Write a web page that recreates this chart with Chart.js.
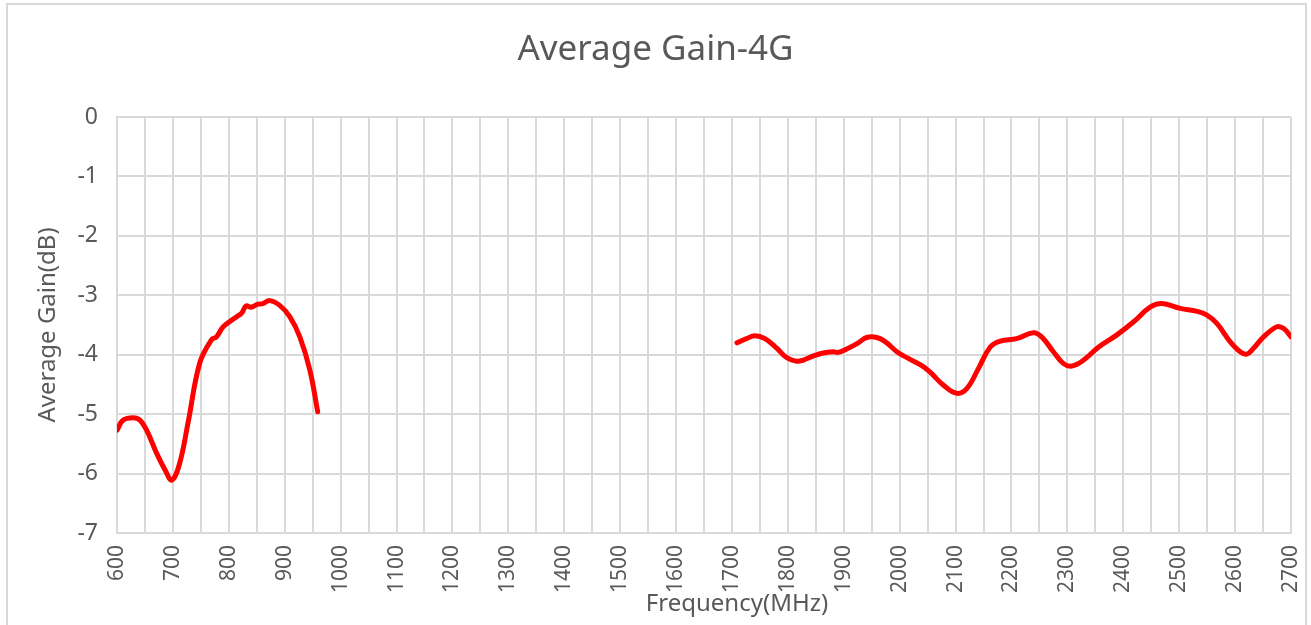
<!DOCTYPE html>
<html>
<head>
<meta charset="utf-8">
<title>Average Gain-4G</title>
<script src="https://cdn.jsdelivr.net/npm/chart.js@4.4.1/dist/chart.umd.min.js"></script>
<style>
    html, body { margin: 0; padding: 0; background: #fff; }
    #wrap { position: relative; width: 1311px; height: 625px; }
</style>
</head>
<body>
<div id="wrap"><canvas id="gainChart" width="1311" height="625"></canvas></div>
<script>
// Low band (MHz / dB)
const lowFreq = [600, 611, 629, 641, 653, 671, 686, 698, 712, 727, 748, 769, 778, 790, 814, 823, 831, 840, 852, 861, 873, 891, 909, 927, 945, 959];
const lowGain = [-5.27, -5.10, -5.06, -5.10, -5.27, -5.66, -5.94, -6.11, -5.83, -5.15, -4.14, -3.75, -3.70, -3.53, -3.36, -3.30, -3.18, -3.20, -3.15, -3.14, -3.09, -3.17, -3.36, -3.70, -4.26, -4.96];

// High band (MHz / dB)
const highFreq = [1709, 1726, 1741, 1759, 1780, 1798, 1816, 1828, 1846, 1863, 1881, 1890, 1908, 1926, 1941, 1959, 1974, 1995, 2013, 2039, 2054, 2078, 2102, 2120, 2141, 2162, 2180, 2209, 2239, 2254, 2275, 2293, 2308, 2329, 2356, 2388, 2418, 2448, 2469, 2502, 2532, 2549, 2567, 2591, 2609, 2621, 2633, 2651, 2675, 2687, 2700];
const highGain = [-3.80, -3.73, -3.68, -3.73, -3.89, -4.05, -4.11, -4.09, -4.02, -3.97, -3.95, -3.96, -3.89, -3.80, -3.71, -3.71, -3.78, -3.95, -4.05, -4.18, -4.29, -4.51, -4.65, -4.57, -4.23, -3.87, -3.77, -3.73, -3.63, -3.70, -3.95, -4.15, -4.19, -4.09, -3.87, -3.67, -3.45, -3.20, -3.14, -3.22, -3.27, -3.33, -3.47, -3.78, -3.95, -3.99, -3.89, -3.70, -3.53, -3.56, -3.70];

const xMin = 600, xMax = 2700, xStep = 50, xLabelStep = 100;
const yMin = -7, yMax = 0, yStep = 1;

const FONT = '"Noto Sans", "Open Sans", sans-serif';
const GREY = '#595959';
const GRID = '#d9d9d9';

const toPoints = (xs, ys) => xs.map((x, i) => ({ x: x, y: ys[i] }));

// outer frame like the spreadsheet chart area
const framePlugin = {
    id: 'frame',
    beforeDraw(chart) {
        const c = chart.ctx;
        c.save();
        c.fillStyle = '#fff';
        c.fillRect(0, 0, chart.width, chart.height);
        c.strokeStyle = GRID;
        c.lineWidth = 2;
        c.strokeRect(7, 4, 1299, 700);
        c.restore();
    }
};

// x axis title sits a bit right of the plot centre in the original
const xTitlePlugin = {
    id: 'xTitle',
    afterDraw(chart) {
        const c = chart.ctx;
        const area = chart.chartArea;
        c.save();
        c.fillStyle = GREY;
        c.font = '24px ' + FONT;
        c.textAlign = 'center';
        c.textBaseline = 'middle';
        c.fillText('Frequency(MHz)', (area.left + area.right) / 2 + 33, 604);
        c.restore();
    }
};

const ctx = document.getElementById('gainChart').getContext('2d');
new Chart(ctx, {
    type: 'line',
    data: {
        datasets: [
            {
                label: 'Low band',
                data: toPoints(lowFreq, lowGain),
                borderColor: '#ff0000',
                borderWidth: 5,
                pointRadius: 0,
                tension: 0.4,
                borderCapStyle: 'round',
                fill: false
            },
            {
                label: 'High band',
                data: toPoints(highFreq, highGain),
                borderColor: '#ff0000',
                borderWidth: 5,
                pointRadius: 0,
                tension: 0.4,
                borderCapStyle: 'round',
                fill: false
            }
        ]
    },
    options: {
        responsive: false,
        animation: false,
        layout: { padding: { left: 20, right: 20, top: 0, bottom: 0 } },
        plugins: {
            legend: { display: false },
            tooltip: { enabled: false },
            title: {
                display: true,
                text: 'Average Gain-4G',
                color: GREY,
                font: { family: FONT, size: 35, weight: 'normal' },
                padding: { top: 29, bottom: 46 }
            }
        },
        scales: {
            x: {
                type: 'linear',
                min: xMin,
                max: xMax,
                afterFit: (s) => { s.height = 92; s.paddingLeft = 0; s.paddingRight = 0; },
                grid: { color: GRID, lineWidth: 2, drawTicks: false },
                border: { color: GRID, width: 2 },
                ticks: {
                    stepSize: xStep,
                    autoSkip: false,
                    minRotation: 90,
                    maxRotation: 90,
                    padding: 12,
                    color: GREY,
                    font: { family: FONT, size: 21 },
                    callback: (v) => (v % xLabelStep === 0 ? String(v) : '')
                },
                title: { display: false }
            },
            y: {
                min: yMin,
                max: yMax,
                afterFit: (s) => { s.width = 97; s.paddingTop = 0; s.paddingBottom = 0; },
                grid: { color: GRID, lineWidth: 2, drawTicks: false },
                border: { color: GRID, width: 2 },
                ticks: {
                    stepSize: yStep,
                    padding: 19,
                    color: GREY,
                    font: { family: FONT, size: 23 }
                },
                title: {
                    display: true,
                    text: 'Average Gain(dB)',
                    color: GREY,
                    font: { family: FONT, size: 24 },
                    padding: { top: 14, bottom: 0 }
                }
            }
        }
    },
    plugins: [framePlugin, xTitlePlugin]
});
</script>
</body>
</html>
